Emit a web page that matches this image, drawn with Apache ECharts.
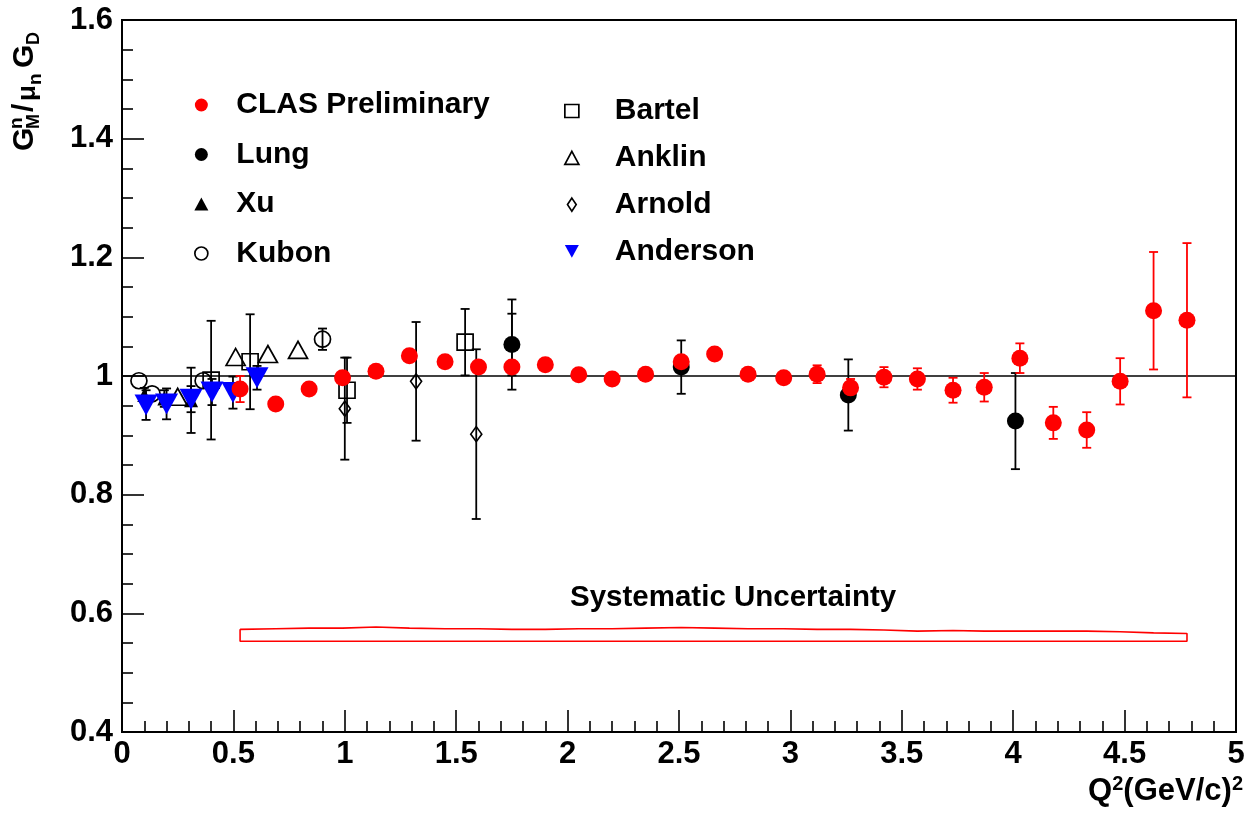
<!DOCTYPE html>
<html><head><meta charset="utf-8">
<script src="https://cdn.jsdelivr.net/npm/echarts@6/dist/echarts.min.js"></script>
<style>html,body{margin:0;padding:0;background:#fff}#c{width:1250px;height:816px}</style>
</head><body><div id="c"></div>
<script>
// ---------------- data ----------------
const clasQ2  = [0.53,0.69,0.84,0.99,1.14,1.29,1.45,1.60,1.75,1.90,2.05,2.20,2.35,2.51,2.66,2.81,2.97,3.12,3.27,3.42,3.57,3.73,3.87,4.03,4.18,4.33,4.48,4.63,4.78];
const clasGM  = [0.978,0.953,0.978,0.997,1.008,1.034,1.024,1.015,1.015,1.019,1.002,0.995,1.003,1.024,1.037,1.003,0.997,1.003,0.980,0.998,0.995,0.976,0.981,1.030,0.921,0.909,0.991,1.110,1.094];
const clasErr = [0.022,0.008,0.008,0.008,0.008,0.008,0.008,0.008,0.008,0.008,0.008,0.008,0.008,0.008,0.008,0.008,0.008,0.015,0.015,0.017,0.018,0.021,0.024,0.025,0.027,0.030,0.039,0.099,0.130];
const sysTop  = [0.573,0.574,0.575,0.575,0.577,0.575,0.574,0.574,0.573,0.573,0.574,0.574,0.575,0.576,0.575,0.574,0.574,0.573,0.573,0.572,0.570,0.571,0.570,0.570,0.570,0.570,0.569,0.567,0.566];
const sysBottom = 0.553;

const lungQ2  = [1.75,2.51,3.26,4.01];
const lungGM  = [1.053,1.015,0.968,0.924];
const lungErr = [0.076,0.045,0.060,0.081];
const lungStatErr = [0.052,0,0,0];

const xuQ2  = [0.10,0.19,0.31];
const xuGM  = [0.968,0.962,0.959];
const xuErr = [0.012,0.014,0.055];

const kubonQ2  = [0.076,0.135,0.364,0.90];
const kubonGM  = [0.992,0.970,0.992,1.062];
const kubonErr = [0,0,0,0.018];

const bartelQ2  = [0.40,0.575,1.01,1.54];
const bartelGM  = [0.993,1.024,0.976,1.057];
const bartelErr = [0.100,0.080,0.055,0.056];

const anklinQ2  = [0.25,0.51,0.655,0.79];
const anklinGM  = [0.965,1.032,1.037,1.044];
const anklinErr = [0,0,0,0];

const arnoldQ2  = [1.00,1.32,1.59];
const arnoldGM  = [0.945,0.991,0.902];
const arnoldErr = [0.086,0.100,0.143];

const andersonQ2  = [0.108,0.20,0.31,0.404,0.498,0.606];
const andersonGM  = [0.951,0.953,0.961,0.973,0.972,0.997];
const andersonErr = [0.025,0.026,0.022,0.022,0.027,0.020];

const refLineX = [0,5];
const refLineY = [1,1];

const xTicks = {min:0, max:5, interval:0.5};
const yTicks = {min:0.4, max:1.6, interval:0.2};

// ---------------- chart ----------------
const FONT = '"Liberation Sans", Arial, Helvetica, sans-serif';
const chart = echarts.init(document.getElementById('c'), null, {renderer:'canvas'});

function pts(xs, ys){ return xs.map((x,i)=>[x, ys[i]]); }
function errData(xs, ys, es){
  const out = [];
  xs.forEach((x,i)=>{ if (es[i] > 0) out.push([x, ys[i]-es[i], ys[i]+es[i]]); });
  return out;
}
function errSeries(name, data, color, z){
  return {type:'custom', name, data, z, silent:true, animation:false,
    encode:{x:0, y:[1,2]}, clip:true,
    renderItem:(params, api)=>{
      const lo = api.coord([api.value(0), api.value(1)]);
      const hi = api.coord([api.value(0), api.value(2)]);
      const w = 4.5;
      const st = {stroke:color, lineWidth:1.8, fill:null};
      return {type:'group', children:[
        {type:'line', shape:{x1:lo[0],y1:lo[1],x2:hi[0],y2:hi[1]}, style:st},
        {type:'line', shape:{x1:lo[0]-w,y1:lo[1],x2:lo[0]+w,y2:lo[1]}, style:st},
        {type:'line', shape:{x1:hi[0]-w,y1:hi[1],x2:hi[0]+w,y2:hi[1]}, style:st}
      ]};
    }};
}
const hollow = {color:'rgba(0,0,0,0)', borderColor:'#000', borderWidth:1.7, opacity:1};
function scat(name, xs, ys, symbol, size, itemStyle, z){
  return {type:'scatter', name, data:pts(xs,ys), symbol, symbolSize:size,
          itemStyle:Object.assign({opacity:1}, itemStyle), z, animation:false, emphasis:{disabled:true}};
}

const DOWN_TRI = 'path://M0,0L10,0L5,9Z';
const NARROW_DIAMOND = 'path://M4,0L8,6L4,12L0,6Z';

// systematic band polygon (top forward, bottom backward)
const sysData = [];
clasQ2.forEach((x,i)=>sysData.push([x, sysTop[i]]));
sysData.push([clasQ2[clasQ2.length-1], sysBottom]);
sysData.push([clasQ2[0], sysBottom]);
sysData.push([clasQ2[0], sysTop[0]]);

const legText = {fontFamily:FONT, fontWeight:'bold', fontSize:30, color:'#000'};

const option = {
  animation:false,
  backgroundColor:'#fff',
  grid:{left:122, top:20, right:14, bottom:84, show:true, borderColor:'#000', borderWidth:2, backgroundColor:'rgba(0,0,0,0)'},
  xAxis:{type:'value', min:xTicks.min, max:xTicks.max, interval:xTicks.interval,
    axisLine:{show:true, onZero:false, lineStyle:{color:'#000', width:2}},
    axisTick:{show:true, inside:true, length:22, lineStyle:{color:'#000', width:1.6}},
    minorTick:{show:true, splitNumber:5, length:11, lineStyle:{color:'#000', width:1.6}},
    splitLine:{show:false},
    axisLabel:{color:'#000', fontFamily:FONT, fontWeight:'bold', fontSize:31, margin:7,
      formatter:v=>String(+v.toFixed(1))}},
  yAxis:{type:'value', min:yTicks.min, max:yTicks.max, interval:yTicks.interval,
    axisLine:{show:true, onZero:false, lineStyle:{color:'#000', width:2}},
    axisTick:{show:true, inside:true, length:22, lineStyle:{color:'#000', width:1.6}},
    minorTick:{show:true, splitNumber:4, length:11, lineStyle:{color:'#000', width:1.6}},
    splitLine:{show:false},
    axisLabel:{color:'#000', fontFamily:FONT, fontWeight:'bold', fontSize:31, margin:9,
      formatter:v=>String(+v.toFixed(1))}},
  legend:[
    {left:194, top:90, orient:'vertical', padding:0, itemWidth:14, itemHeight:13, itemGap:19.5,
     selectedMode:false, textStyle:Object.assign({lineHeight:30, padding:[0,0,0,23]}, legText),
     data:[
       {name:'CLAS Preliminary', icon:'circle', itemStyle:{color:'#ff0000', borderWidth:0}},
       {name:'Lung', icon:'circle', itemStyle:{color:'#000', borderWidth:0}},
       {name:'Xu', icon:'triangle', itemStyle:{color:'#000', borderWidth:0}},
       {name:'Kubon', icon:'circle', itemStyle:hollow}
     ]},
    {left:564, top:96, orient:'vertical', padding:0, itemWidth:14, itemHeight:13, itemGap:16.8,
     selectedMode:false, textStyle:Object.assign({lineHeight:30, padding:[0,0,0,31]}, legText),
     data:[
       {name:'Bartel', icon:'rect', itemStyle:hollow},
       {name:'Anklin', icon:'triangle', itemStyle:hollow},
       {name:'Arnold', icon:NARROW_DIAMOND, itemStyle:hollow},
       {name:'Anderson', icon:DOWN_TRI, itemStyle:{color:'#0000ff', borderWidth:0}}
     ]}
  ],
  graphic:[
    {type:'text', left:570, top:583, z:10, silent:true,
     style:{text:'Systematic Uncertainty', font:'bold 29.5px '+FONT, fill:'#000'}},
    {type:'text', right:7, top:774, z:10, silent:true,
     style:{text:'Q{sup|2}(GeV/c){sup|2}', font:'bold 31px '+FONT, fill:'#000',
       rich:{sup:{font:'bold 20px '+FONT, fill:'#000', verticalAlign:'top', padding:[0,0,14,0]}}}},
    {type:'group', x:0, y:152, rotation:Math.PI/2, silent:true, z:10, children:[
      {type:'text', x:1,  y:25, style:{text:'G', font:'bold 30px '+FONT, fill:'#000', verticalAlign:'middle'}},
      {type:'text', x:23, y:17, style:{text:'n', font:'bold 19px '+FONT, fill:'#000', verticalAlign:'middle'}},
      {type:'text', x:23, y:34, style:{text:'M', font:'bold 18px '+FONT, fill:'#000', verticalAlign:'middle'}},
      {type:'text', x:40, y:25, style:{text:'/', font:'bold 30px '+FONT, fill:'#000', verticalAlign:'middle'}},
      {type:'text', x:51, y:28, style:{text:'μ', font:'bold 26px '+FONT, fill:'#000', verticalAlign:'middle'}},
      {type:'text', x:67, y:36, style:{text:'n', font:'bold 19px '+FONT, fill:'#000', verticalAlign:'middle'}},
      {type:'text', x:84, y:25, style:{text:'G', font:'bold 30px '+FONT, fill:'#000', verticalAlign:'middle'}},
      {type:'text', x:107,y:34, style:{text:'D', font:'bold 18px '+FONT, fill:'#000', verticalAlign:'middle'}}
    ]}
  ],
  series:[
    {type:'line', name:'ref', data:pts(refLineX, refLineY), symbol:'none', z:1, silent:true,
     lineStyle:{color:'#000', width:1.6}, animation:false},
    {type:'line', name:'sys', data:sysData, symbol:'none', z:1, silent:true,
     lineStyle:{color:'#ff0000', width:1.6}, animation:false},
    errSeries('errArnold', errData(arnoldQ2, arnoldGM, arnoldErr), '#000', 2),
    errSeries('errBartel', errData(bartelQ2, bartelGM, bartelErr), '#000', 2),
    errSeries('errKubon', errData(kubonQ2, kubonGM, kubonErr), '#000', 2),
    errSeries('errAnklin', errData(anklinQ2, anklinGM, anklinErr), '#000', 2),
    errSeries('errXu', errData(xuQ2, xuGM, xuErr), '#000', 2),
    errSeries('errAnderson', errData(andersonQ2, andersonGM, andersonErr), '#000', 2),
    errSeries('errLung', errData(lungQ2, lungGM, lungErr), '#000', 2),
    errSeries('errLungStat', errData(lungQ2, lungGM, lungStatErr), '#000', 2),
    errSeries('errCLAS', errData(clasQ2, clasGM, clasErr), '#ff0000', 2),
    scat('Arnold', arnoldQ2, arnoldGM, NARROW_DIAMOND, [11,15], hollow, 3),
    scat('Bartel', bartelQ2, bartelGM, 'rect', 16, hollow, 3),
    scat('Kubon', kubonQ2, kubonGM, 'circle', 16, hollow, 3),
    scat('Anklin', anklinQ2, anklinGM, 'triangle', [19,17], hollow, 3),
    scat('Xu', xuQ2, xuGM, 'triangle', 14, {color:'#000'}, 3),
    scat('Anderson', andersonQ2, andersonGM, DOWN_TRI, [23,21], {color:'#0000ff'}, 4),
    scat('Lung', lungQ2, lungGM, 'circle', 17, {color:'#000'}, 5),
    scat('CLAS Preliminary', clasQ2, clasGM, 'circle', 17, {color:'#ff0000'}, 6)
  ]
};
chart.setOption(option);
</script>
</body></html>
